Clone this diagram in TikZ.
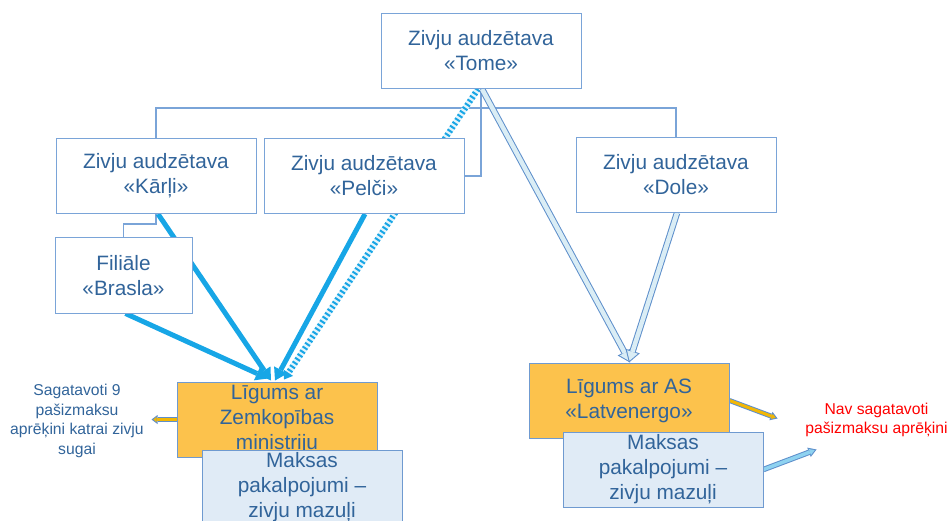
\documentclass[tikz,border=0pt]{standalone}
\usepackage{fontspec}
\setmainfont{Liberation Sans}
\usetikzlibrary{arrows.meta,calc,backgrounds}
\definecolor{boxline}{HTML}{7AA4D8}
\definecolor{txt}{HTML}{31649A}
\definecolor{fatblue}{HTML}{17A6E6}
\definecolor{mygold}{HTML}{FCC24C}
\definecolor{goldline}{HTML}{6F9AD0}
\definecolor{pale}{HTML}{E0EBF6}
\definecolor{paleline}{HTML}{6F9AD0}
\definecolor{hollowfill}{HTML}{DAEDF5}
\definecolor{hollowline}{HTML}{5E8FCB}
\definecolor{arrgold}{HTML}{F2B705}
\definecolor{arrsky}{HTML}{8ED2F0}
\definecolor{redtxt}{HTML}{FF0000}
\newcommand\hollowarr[7]{%
  \pgfmathsetmacro\hoOut{#5+2}%
  \pgfmathsetmacro\hoLen{#6-2.85}%
  \pgfmathsetmacro\hoWid{#7-3.7}%
  \draw[line width=\hoOut pt,draw=#4,-{Triangle[length=#6pt,width=#7pt,line width=0pt]}] #1 -- #2;%
  \draw[line width=#5pt,draw=#3,shorten >=1.9pt,-{Triangle[length=\hoLen pt,width=\hoWid pt,line width=0pt]}] #1 -- #2;%
}
\tikzset{
  orgbox/.style={draw=boxline,line width=1pt,fill=white,minimum width=200pt,minimum height=75pt,inner sep=0pt,align=center,text=txt,font=\fontsize{20.8}{25}\selectfont},
  goldbox/.style={orgbox,fill=mygold,draw=goldline},
  palebox/.style={orgbox,fill=pale,draw=paleline},
  notetext/.style={align=center,inner sep=0pt,font=\fontsize{15.7}{19.5}\selectfont},
  orgline/.style={draw=boxline,line width=1.2pt},
  fatarrow/.style={draw=fatblue,line width=5pt,-{Triangle[length=12pt,width=15pt,line width=0pt]}},
}
\begin{document}
\begin{tikzpicture}[x=1pt,y=-1pt]
\useasboundingbox (0,0) rectangle (950,521);
\clip (0,0) rectangle (950,521);
\node[orgbox] (tome) at (481,51) {Zivju audzētava\\«Tome»};
\node[orgbox] (karli) at (156,176) {Zivju audzētava\\«Kārļi»};
\node[orgbox] (pelci) at (364,176) {Zivju audzētava\\«Pelči»};
\node[orgbox] (dole) at (676,175) {Zivju audzētava\\«Dole»};
\node[orgbox,minimum width=137pt] (fil) at (123.5,275.5) {Filiāle\\«Brasla»};
\node[goldbox] (ly) at (277,419.5) {Līgums ar\\Zemkopības\\ministriju};
\node[palebox] (lb) at (302,487.5) {Maksas\\pakalpojumi –\\zivju mazuļi};
\node[goldbox] (ry) at (629,400.5) {Līgums ar AS\\«Latvenergo»};
\node[palebox] (rb) at (663,469.5) {Maksas\\pakalpojumi –\\zivju mazuļi};
\node[notetext,text=txt] (lt) at (77,421) {Sagatavoti 9\\pašizmaksu\\aprēķini katrai zivju\\sugai};
\node[notetext,text=redtxt] (rt) at (876.5,420) {Nav sagatavoti\\pašizmaksu aprēķini};
\begin{scope}[on background layer]
  \coordinate (bus) at ($(tome.south)+(0,19)$);
  \draw[orgline] (karli.north) |- (bus) -| (dole.north);
  \draw[orgline] (tome.south) |- (pelci.east);
  \draw[orgline] (karli.south) -- ++(0,10) -| (fil.north);
  \draw[fatarrow] ($(karli.south)+(2,0)$) -- ($(ly.north)+(-6,-1)$);
  \draw[fatarrow] ($(fil.south)+(2,0)$) -- ($(ly.north)+(-9,-3)$);
  \draw[fatarrow] ($(pelci.south)+(1,0)$) -- ($(ly.north)+(-2,-1)$);
  \draw[line width=6pt,draw=white!88!fatblue,shorten >=8pt] ($(tome.south)+(-3,0)$) -- ($(ly.north)+(7,-2)$);
  \draw[line width=6pt,draw=fatblue,dash pattern=on 2pt off 2.5pt,-{Triangle[length=8pt,width=11pt,line width=0pt]}] ($(tome.south)+(-3,0)$) -- ($(ly.north)+(7,-2)$);
  \hollowarr{($(tome.south)+(1,0)$)}{($(ry.north)+(1,0)$)}{hollowfill}{hollowline}{4.5}{12}{15}
  \hollowarr{($(dole.south)+(1,0)$)}{(ry.north)}{hollowfill}{hollowline}{4.5}{12}{15}
  \hollowarr{(ly.west)}{($(ly.west)+(-25,0)$)}{arrgold}{hollowline}{3}{6}{9}
  \hollowarr{(ry.east)}{($(ry.east)+(48,18)$)}{arrgold}{hollowline}{3}{7}{9}
  \hollowarr{(rb.east)}{($(rb.east)+(53,-20)$)}{arrsky}{hollowline}{3.5}{8}{10}
\end{scope}
\end{tikzpicture}
\end{document}
